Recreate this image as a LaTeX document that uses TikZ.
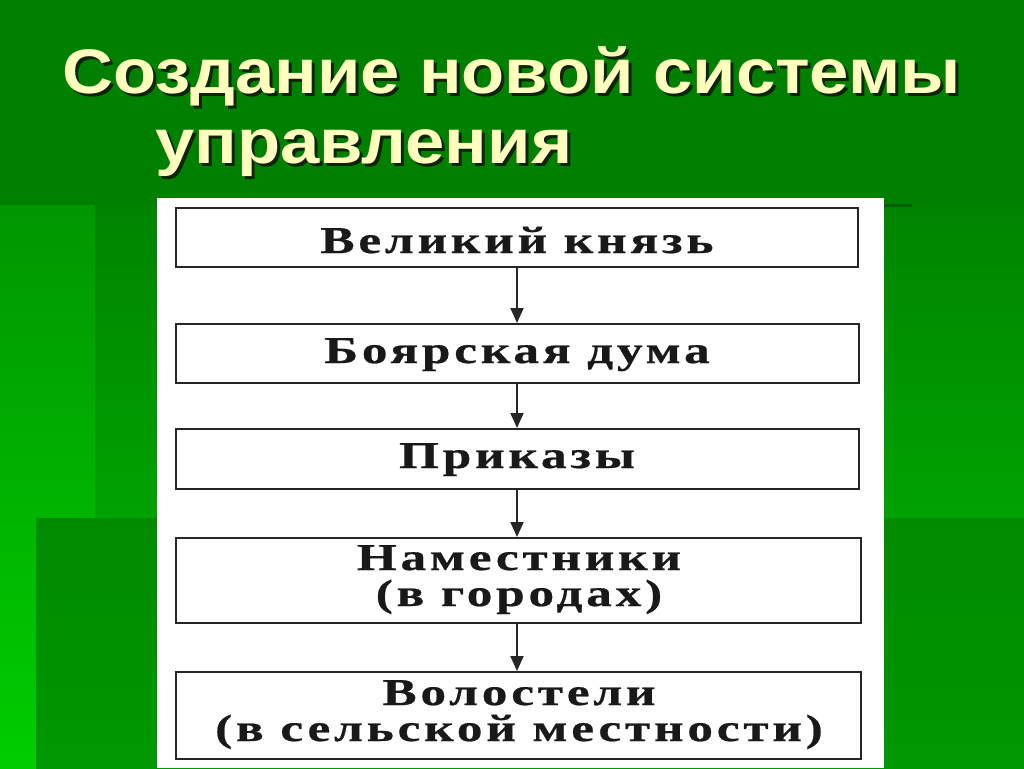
\documentclass[tikz,border=0pt]{standalone}
\usepackage{fontspec}
\setmainfont{Liberation Serif}
\newfontfamily\titlefont[FakeStretch=1.12]{Liberation Sans}
\newfontfamily\boxfont[FakeStretch=1.35,LetterSpace=10,BoldFeatures={FakeBold=0.6}]{Liberation Serif}
\usetikzlibrary{arrows.meta}
\definecolor{bgtop}{RGB}{0,128,0}
\definecolor{titlecol}{RGB}{255,255,190}
\definecolor{shadowcol}{RGB}{15,35,5}
\definecolor{bgA}{RGB}{0,150,0}
\definecolor{bgB}{RGB}{0,205,0}
\definecolor{bgC}{RGB}{0,132,0}
\definecolor{bgD}{RGB}{0,162,0}
\definecolor{bgE}{RGB}{0,138,0}
\definecolor{bgF}{RGB}{0,152,0}
\definecolor{darkline}{RGB}{0,95,0}
\newcommand{\shadowed}[1]{\rlap{\hspace{3pt}\raisebox{-3pt}{\textcolor{shadowcol}{#1}}}\textcolor{titlecol}{#1}}
\tikzset{
  pix/.style={x=1pt,y=-1pt},
  flowbox/.style={draw=black!85,line width=2.4pt,fill=white,inner sep=0pt,anchor=north west},
  boxtext/.style={font=\boxfont\bfseries\fontsize{38}{36}\selectfont,anchor=base,inner sep=0pt,text=black!90},
  flowarrow/.style={draw=black!85,line width=2pt,-{Triangle[length=15pt,width=13pt]}},
  titletext/.style={font=\titlefont\bfseries\fontsize{63}{70}\selectfont,anchor=base west,inner sep=0pt}
}
\begin{document}
\begin{tikzpicture}[pix]
\useasboundingbox (0,0) rectangle (1024,768);
% background
\fill[bgtop] (0,0) rectangle (1024,768);
\shade[top color=bgA,bottom color=bgB] (0,205) rectangle (95,768);
\shade[top color=bgC,bottom color=bgD] (95,205) rectangle (1024,518);
\shade[top color=bgE,bottom color=bgF] (36,518) rectangle (1024,768);
\draw[line width=3pt,darkline] (884,205) -- (912,205);
% title
\node[titletext] (t1) at (62,93) {\shadowed{Создание новой системы}};
\node[titletext] (t2) at (155,163) {\shadowed{управления}};
% white panel
\fill[white] (157,198) rectangle (884,768);
% boxes
\node[flowbox,minimum width=682pt,minimum height=59pt] (b1) at (175,207) {};
\node[flowbox,minimum width=683pt,minimum height=59pt] (b2) at (175,323) {};
\node[flowbox,minimum width=683pt,minimum height=60pt] (b3) at (175,428) {};
\node[flowbox,minimum width=685pt,minimum height=85pt] (b4) at (175,537) {};
\node[flowbox,minimum width=685pt,minimum height=87pt] (b5) at (175,671) {};
\node[boxtext] (l1) at (517,253) {Великий князь};
\node[boxtext] (l2) at (517,363) {Боярская дума};
\node[boxtext] (l3) at (517,468) {Приказы};
\node[boxtext] (l4a) at (519,570) {Наместники};
\node[boxtext] (l4b) at (519,606) {(в городах)};
\node[boxtext] (l5a) at (519,705) {Волостели};
\node[boxtext] (l5b) at (519,741) {(в сельской местности)};
% arrows
\draw[flowarrow] (b1.south -| 517,0) -- (b2.north -| 517,0);
\draw[flowarrow] (b2.south -| 517,0) -- (b3.north -| 517,0);
\draw[flowarrow] (b3.south -| 517,0) -- (b4.north -| 517,0);
\draw[flowarrow] (b4.south -| 517,0) -- (b5.north -| 517,0);
\end{tikzpicture}
\end{document}
